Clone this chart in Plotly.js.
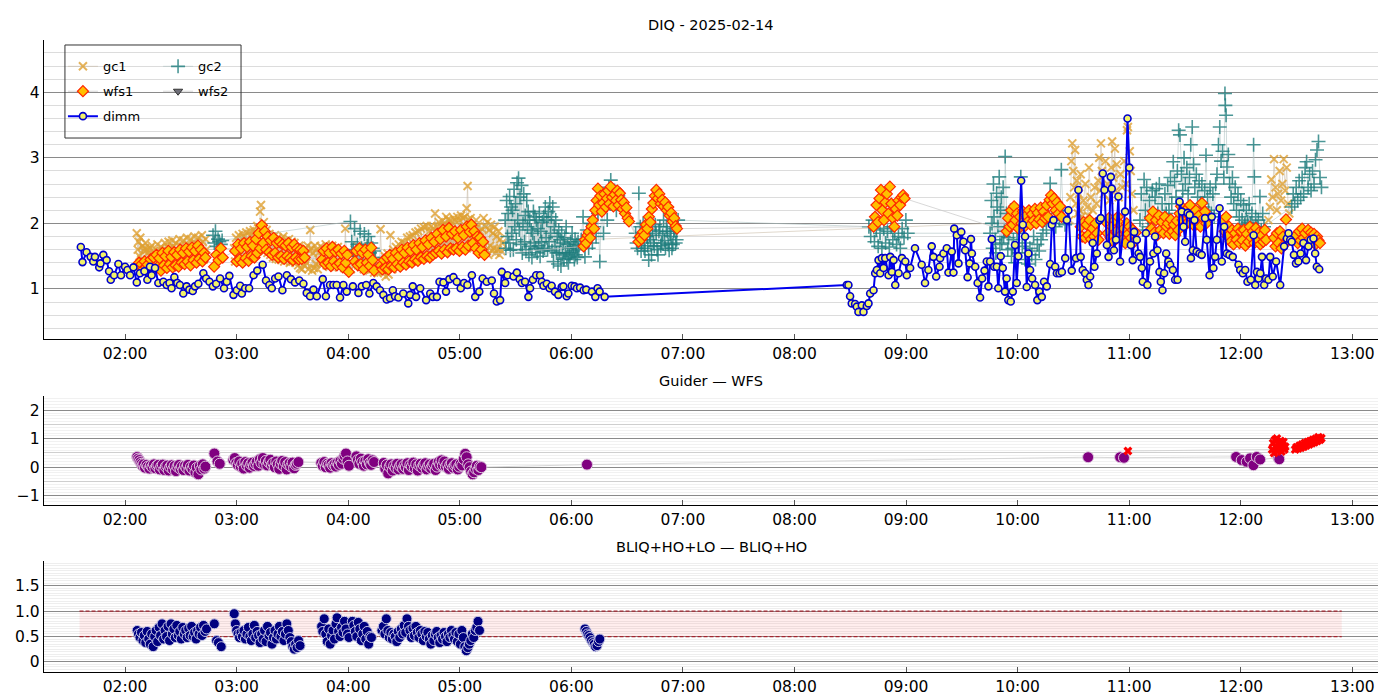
<!DOCTYPE html>
<html>
<head>
<meta charset="utf-8">
<script src="https://cdn.plot.ly/plotly-3.0.1.min.js"></script>
<style>
  html, body { margin: 0; padding: 0; background: #fff; }
  #diq-plot { width: 1400px; height: 700px; }
</style>
</head>
<body>
<div id="diq-plot"></div>
<script>
// DIQ night summary. Times are minutes after 00:00 UT, 2025-02-14.
const NIGHT = Date.UTC(2025, 1, 14);
const X_RANGE = [76.4, 793.8];

// ---- top panel: seeing estimates [minute, arcsec] ----
const dimm = [
  [96.2,1.64],[97.1,1.41],[99.3,1.56],[101.5,1.49],[102.9,1.42],[103.8,1.49],[106.1,1.33],[106.8,1.39],[108.3,1.52],[110.1,1.44],
  [111.4,1.27],[112.3,1.14],[114.1,1.21],[116.4,1.38],[117.8,1.21],[120.0,1.34],[121.3,1.29],[122.7,1.21],[124.5,1.33],[126.3,1.10],
  [128.0,1.24],[130.4,1.27],[132.0,1.14],[133.4,1.34],[134.3,1.21],[136.1,1.32],[137.9,1.09],[140.6,1.11],[142.4,1.06],[143.9,1.09],
  [145.0,1.01],[146.5,1.18],[148.1,1.09],[149.5,1.06],[151.3,0.93],[153.1,1.04],[154.6,0.99],[156.4,0.97],[157.6,1.04],[159.4,1.08],
  [162.1,1.24],[163.6,1.16],[165.4,1.11],[167.2,1.04],[169.0,1.08],[171.1,1.16],[173.2,1.01],[174.7,1.11],[176.1,1.20],[178.3,0.91],
  [180.1,0.98],[181.9,1.05],[182.8,0.93],[184.6,1.01],[186.7,1.01],[189.1,1.21],[191.1,1.28],[194.0,1.37],[195.8,1.13],[197.6,1.06],
  [198.9,1.01],[200.7,1.16],[202.5,1.19],[204.6,0.98],[207.0,1.21],[209.2,1.15],[211.4,1.10],[213.7,1.13],[215.9,1.08],[217.7,0.94],
  [219.5,0.89],[221.3,0.99],[223.1,0.89],[226.3,1.15],[228.0,0.89],[230.2,1.06],[232.0,1.06],[233.8,1.06],[235.6,0.87],[237.4,1.06],
  [239.2,0.96],[242.5,1.04],[245.5,0.94],[247.3,1.04],[249.7,1.06],[251.4,0.93],[253.5,1.09],[255.3,1.04],[257.1,0.98],[258.9,0.91],
  [260.7,0.84],[262.5,0.86],[264.0,0.98],[265.2,0.89],[267.0,0.87],[269.6,0.93],[272.3,0.78],[273.3,0.91],[274.7,1.04],[276.5,0.88],
  [278.7,1.01],[281.9,0.83],[284.1,0.93],[285.5,0.88],[287.7,0.88],[289.1,1.11],[291.2,1.10],[292.6,0.96],[294.4,1.15],[296.6,1.18],
  [298.4,1.11],[300.5,1.01],[302.3,1.09],[304.1,1.06],[306.5,1.21],[308.3,0.88],[310.5,0.96],[312.3,1.16],[314.5,1.11],[317.2,1.13],
  [318.4,0.93],[319.9,0.81],[321.7,0.83],[322.6,1.26],[324.4,1.09],[325.7,1.21],[328.9,1.19],[330.7,1.25],[332.2,1.15],[333.4,1.09],
  [335.1,1.11],[336.9,0.88],[337.8,1.01],[339.3,1.14],[341.1,1.21],[343.2,1.21],[344.1,1.11],[345.0,1.05],[346.8,1.08],[348.3,1.01],
  [349.4,1.05],[351.2,0.96],[353.0,0.91],[354.8,1.03],[355.7,1.04],[357.5,0.89],[358.4,0.93],[360.2,1.05],[361.7,1.04],[363.0,1.01],
  [364.7,1.02],[366.6,0.98],[368.0,0.99],[371.1,0.96],[372.9,0.88],[374.1,1.01],[375.2,0.96],[377.9,0.88],
  [508.1,1.06],[509.0,1.06],[509.9,0.89],[510.8,0.78],[512.6,0.77],[513.5,0.73],[514.4,0.65],[516.2,0.75],[517.1,0.65],[518.9,0.74],
  [519.8,0.78],[520.7,0.93],[522.5,0.98],[523.4,1.24],[524.3,1.29],[525.2,1.44],[526.1,1.24],[527.0,1.47],[527.9,1.32],[528.8,1.47],
  [530.6,1.21],[531.5,1.49],[532.4,1.26],[533.3,1.44],[534.2,1.06],[536.0,1.24],[537.8,1.47],[539.6,1.42],[540.4,1.21],[542.2,1.32],
  [544.8,1.62],[548.4,1.37],[550.2,1.09],[552.0,1.29],[553.8,1.65],[554.7,1.49],[556.2,1.19],[558.0,1.34],
  [558.3,1.47],[560.1,1.54],[561.9,1.62],[562.8,1.25],[564.6,1.57],[565.5,1.25],[565.9,1.92],[567.3,1.82],[568.2,1.39],[569.7,1.87],
  [570.9,1.72],[571.8,1.59],[573.1,1.18],[574.2,1.39],[574.9,1.76],[575.4,1.54],[577.2,1.34],[578.5,1.09],[579.8,0.87],[580.9,1.16],
  [582.2,1.28],[583.4,1.42],[584.3,1.04],[585.2,1.42],[586.1,1.76],[587.4,1.34],[588.8,1.34],[589.6,1.01],[590.9,1.50],[592.0,1.32],
  [593.2,0.96],[594.1,1.16],[595.0,0.83],[596.3,0.81],[597.4,0.96],[598.6,1.67],[599.5,1.09],[600.4,1.50],[601.9,2.65],[602.8,1.98],
  [604.0,1.80],[604.9,1.03],[605.8,1.54],[606.7,1.29],[607.8,1.16],[609.4,1.06],[610.6,0.83],[611.7,0.96],[613.0,0.88],[614.2,1.11],
  [615.7,1.04],[617.5,1.38],[618.4,1.98],[619.3,2.05],[620.2,1.34],[621.1,1.24],[622.5,1.24],[623.8,1.26],[625.6,1.47],[626.5,2.05],
  [627.3,2.20],[629.1,1.28],[631.4,1.47],[632.7,2.51],[633.9,1.49],[635.0,1.29],[636.3,1.24],[637.2,1.14],[638.1,1.06],[639.0,1.19],
  [640.4,1.70],[641.3,1.34],[642.6,1.54],[644.0,2.05],[644.7,2.08],[645.8,2.76],[646.7,2.51],[648.0,1.67],[648.9,1.49],[650.1,2.71],
  [650.6,2.53],[651.8,1.59],[652.9,1.75],[654.2,2.41],[655.1,1.42],[657.8,2.18],[659.1,3.60],[660.1,2.85],[660.9,1.67],[661.9,1.44],
  [662.7,1.87],[664.1,1.75],[665.0,1.54],[665.9,1.49],[666.8,1.32],[667.3,1.11],[669.0,1.85],[669.8,1.06],[671.2,1.42],[673.0,1.54],
  [673.9,1.80],[675.2,1.59],[676.3,1.26],[677.0,1.11],[677.9,0.98],[678.8,1.24],[679.9,1.54],[681.1,1.42],[682.0,1.37],[683.5,1.29],
  [684.7,1.14],[686.0,1.14],[687.1,2.33],[688.3,2.18],[689.2,1.95],[690.1,1.72],[691.4,2.16],[692.5,2.13],[693.2,1.47],[694.2,1.59],
  [695.1,2.05],[696.3,1.57],[697.8,1.54],[699.0,1.52],[700.8,2.08],[701.7,1.75],[703.2,1.21],[704.4,2.10],[705.3,1.32],[706.2,1.49],
  [707.1,1.75],[708.6,2.23],[709.8,1.42],[711.1,1.95],[712.5,1.54],[713.9,1.52],[715.7,1.49],[718.8,1.37],[719.7,1.29],[721.1,1.24],
  [722.4,1.29],[723.6,1.11],[725.4,1.14],[726.9,1.82],[727.8,1.06],[728.7,1.26],[729.6,1.16],[730.5,1.24],[731.4,1.49],[732.6,1.06],
  [733.6,1.16],[734.9,1.14],[735.8,1.49],[737.2,1.19],[739.0,1.42],[741.2,1.06],[743.3,1.65],[744.8,1.77],[745.7,1.85],[746.6,1.75],
  [747.4,1.72],[748.6,1.52],[749.7,1.39],[751.0,1.42],[752.2,1.54],[753.7,1.70],[755.1,1.44],[756.4,1.65],[757.6,1.75],[759.1,1.77],
  [760.0,1.54],[760.9,1.34],[762.2,1.30]
];

const wfs1 = [
  [127.5,1.40],[128.2,1.32],[128.9,1.38],[129.7,1.30],[130.5,1.42],[131.3,1.33],[132.1,1.37],[132.9,1.29],[133.7,1.45],[134.5,1.31],
  [135.3,1.48],[136.1,1.30],[136.9,1.52],[137.7,1.34],[138.5,1.47],[139.3,1.28],[140.1,1.55],[140.9,1.36],[141.7,1.50],[142.5,1.32],
  [143.3,1.58],[144.1,1.38],[144.9,1.49],[145.6,1.33],[146.4,1.56],[147.2,1.36],[148.0,1.52],[148.8,1.34],[149.6,1.60],[150.4,1.40],
  [151.2,1.55],[152.0,1.38],[152.8,1.62],[153.6,1.42],[154.4,1.57],[155.2,1.36],[156.0,1.63],[156.8,1.44],[157.6,1.58],[158.4,1.40],
  [159.2,1.66],[160.0,1.46],[160.8,1.60],[161.6,1.42],[162.4,1.55],[163.2,1.48],
  [167.9,1.34],[169.1,1.52],[170.3,1.44],[171.5,1.62],[172.5,1.48],
  [179.2,1.58],[180.0,1.42],[180.8,1.68],[181.6,1.45],[182.4,1.62],[183.2,1.40],[184.0,1.70],[184.8,1.47],[185.6,1.64],[186.4,1.43],
  [187.2,1.72],[188.0,1.50],[188.8,1.66],[189.6,1.48],[190.4,1.76],[191.1,1.55],[191.9,1.85],[192.7,1.62],[193.5,1.97],[194.3,1.70],
  [195.1,1.88],[195.9,1.60],[196.7,1.80],[197.5,1.56],[198.3,1.74],[199.1,1.52],[199.9,1.78],[200.7,1.55],[201.5,1.70],[202.3,1.48],
  [203.1,1.72],[203.9,1.50],[204.7,1.68],[205.5,1.46],[206.3,1.66],[207.1,1.50],[207.9,1.70],[208.7,1.47],[209.5,1.64],[210.3,1.44],
  [211.0,1.68],[211.8,1.48],[212.6,1.62],[213.4,1.45],[214.2,1.60],[215.0,1.46],[215.8,1.58],[216.6,1.48],
  [226.0,1.45],[226.8,1.58],[227.6,1.38],[228.4,1.62],[229.2,1.40],[229.9,1.55],[230.7,1.35],[231.5,1.64],[232.3,1.42],[233.1,1.57],
  [233.9,1.36],[234.7,1.60],[235.5,1.39],[236.3,1.54],[237.1,1.33],[237.9,1.58],[238.7,1.40],[239.5,1.52],[240.3,1.26],
  [243.6,1.42],[244.4,1.58],[245.2,1.36],[246.0,1.62],[246.8,1.38],[247.6,1.55],[248.4,1.30],[249.2,1.60],[250.0,1.40],[250.8,1.52],
  [251.6,1.35],[252.4,1.63],[253.1,1.44],[253.9,1.28],
  [257.6,1.36],[258.4,1.30],[259.2,1.44],[260.0,1.32],[260.8,1.48],[261.6,1.30],[262.4,1.52],[263.2,1.35],[264.0,1.46],[264.8,1.33],
  [265.6,1.55],[266.4,1.38],[267.2,1.50],[268.0,1.34],[268.8,1.60],[269.6,1.40],[270.3,1.55],[271.1,1.37],[271.9,1.63],[272.7,1.42],
  [273.5,1.58],[274.3,1.40],[275.1,1.67],[275.9,1.45],[276.7,1.60],[277.5,1.43],[278.3,1.70],[279.1,1.48],[279.9,1.64],[280.7,1.46],
  [281.5,1.74],[282.3,1.50],[283.1,1.68],[283.9,1.48],[284.7,1.78],[285.5,1.52],[286.3,1.72],[287.1,1.55],[287.9,1.84],[288.7,1.58],
  [289.5,1.76],[290.2,1.54],[291.0,1.90],[291.8,1.60],[292.6,1.80],[293.4,1.56],[294.2,1.93],[295.0,1.62],[295.8,1.84],[296.6,1.60],
  [297.4,1.88],[298.2,1.62],[299.0,1.78],[299.8,1.58],[300.6,1.90],[301.4,1.64],[302.2,1.82],[303.0,1.60],[303.8,1.95],[304.6,1.66],
  [305.4,1.87],[306.2,1.98],[307.0,1.70],[307.8,1.88],[308.6,1.62],[309.4,1.80],[310.2,1.55],[310.9,1.78],[311.7,1.60],[312.5,1.72],
  [313.3,1.52],
  [366.6,1.65],[367.3,1.75],[368.0,1.70],[368.7,1.82],[369.4,1.87],[370.1,1.78],[370.8,1.95],[371.5,2.05],[372.2,1.92],[372.9,2.20],
  [373.6,2.35],[374.3,2.53],[375.0,2.28],[375.7,2.42],[376.4,2.18],[377.1,2.31],[377.8,2.45],[378.5,2.25],[379.2,2.38],[379.8,2.50],
  [380.5,2.30],[381.2,2.56],[381.9,2.40],[382.6,2.26],[383.3,2.44],[384.0,2.35],[384.7,2.50],[385.4,2.28],[386.1,2.46],[386.8,2.36],
  [387.5,2.22],[388.2,2.32],[388.9,2.15],[389.6,2.24],[390.3,2.08],[391.0,2.03],
  [396.1,1.72],[396.9,1.80],[397.7,1.76],[398.5,1.87],[399.3,1.82],[400.1,1.98],[400.9,1.92],[401.7,2.10],[402.5,2.02],[403.3,2.22],
  [404.1,2.31],[404.9,2.42],[405.7,2.51],[406.5,2.38],[407.3,2.45],[408.1,2.30],[408.9,2.36],[409.7,2.26],[410.5,2.32],[411.3,2.20],
  [412.1,2.25],[412.9,2.12],[413.7,2.16],[414.5,2.03],[415.3,2.08],[416.1,1.96],[416.8,1.92],
  [522.5,1.95],[523.3,2.10],[524.1,2.28],[524.9,2.02],[525.7,2.38],[526.5,2.51],[527.3,2.20],[528.1,2.05],[528.9,2.32],[529.7,2.45],
  [530.5,2.15],[531.3,2.56],[532.1,2.30],[532.9,2.08],[533.7,1.95],[534.5,2.22],[535.3,2.12],[536.0,2.35],[536.8,2.28],[537.6,2.40],
  [538.4,2.43],[539.2,2.38],
  [594.1,1.88],[594.9,2.08],[595.7,1.95],[596.5,2.20],[597.3,1.98],[598.1,2.26],[598.9,2.05],[599.7,2.15],[600.5,1.92],[601.3,2.10],
  [602.1,2.00],[602.9,2.18],[603.7,1.95],[604.5,2.12],[605.3,2.02],[606.1,2.20],[606.9,1.98],[607.7,2.14],[608.5,2.04],[609.3,2.22],
  [610.0,2.00],[610.8,2.16],[611.6,2.06],[612.4,2.24],[613.2,2.02],[614.0,2.18],[614.8,2.08],[615.6,2.28],[616.4,2.10],[617.2,2.36],
  [618.0,2.43],[618.8,2.30],[619.6,2.38],[620.4,2.20],[621.2,2.32],[622.0,2.15],[622.8,2.26],[623.6,2.10],
  [633.9,1.95],[634.7,1.80],[635.5,2.02],[636.3,1.78],[637.1,1.98],[637.9,1.82],[638.7,2.05],[639.5,1.76],[640.3,1.92],[641.1,1.80],
  [641.9,2.00],[642.7,1.85],[643.5,1.75],
  [647.5,2.02],[648.3,1.85],[649.1,2.08],[649.9,1.78],[650.7,1.95],[651.5,1.72],[652.3,2.05],[653.1,1.88],[653.9,2.10],[654.7,1.80],
  [655.5,1.98],[656.3,1.75],[657.1,1.92],[657.9,1.70],[658.7,2.00],[659.5,1.84],[660.3,1.95],[661.1,1.78],[661.9,1.90],[662.7,1.72],
  [663.5,1.86],
  [671.2,2.08],[672.0,1.92],[672.8,2.18],[673.6,1.86],[674.4,2.05],[675.2,1.82],[676.0,2.12],[676.8,1.90],[677.6,2.02],[678.4,1.85],
  [679.2,2.10],[680.0,1.95],[680.8,2.00],[681.6,1.84],[682.4,2.06],[683.2,1.88],[684.0,1.98],[684.8,1.82],[685.6,2.04],[686.4,1.90],
  [687.1,2.15],[687.9,2.26],[688.7,2.05],[689.5,2.18],[690.3,1.98],[691.1,2.22],[691.9,2.02],[692.7,2.28],[693.5,2.08],[694.3,2.14],
  [695.1,1.96],[695.9,2.20],[696.7,2.00],[697.5,2.12],[698.3,1.95],[699.1,2.31],[699.9,2.08],[700.7,2.18],[701.5,2.00],
  [710.5,2.05],[711.3,1.88],[712.1,2.10],[712.9,1.80],[713.7,1.95],[714.5,1.72],[715.3,1.90],[716.1,1.68],[716.9,1.85],[717.7,1.75],
  [718.5,1.92],[719.3,1.70],[720.1,1.88],[720.9,1.74],[721.7,1.90],[722.5,1.66],[723.3,1.84],[724.1,1.72],[724.9,1.95],[725.7,1.78],
  [726.5,1.88],[727.3,1.70],[728.1,1.93],[728.9,1.76],[729.7,1.86],[730.5,1.68],[731.3,1.82],[732.1,1.72],[732.9,1.90],[733.6,1.75],
  [737.9,1.78],[738.7,1.65],[739.5,1.85],[740.3,1.70],[741.1,1.88],[741.9,1.62],[742.7,1.80],[743.5,1.68],[744.3,2.06],[745.1,1.75],
  [749.8,1.82],[750.6,1.70],[751.4,1.88],[752.2,1.74],[753.0,1.92],[753.8,1.78],[754.6,1.85],[755.4,1.70],[756.2,1.90],[757.0,1.76],
  [757.8,1.86],[758.6,1.72],[759.4,1.84],[760.2,1.68],[761.0,1.80],[761.8,1.74],[762.6,1.70]
];

const gc1 = [
  [126.3,1.85],[126.8,1.60],[127.2,1.72],[127.7,1.50],[128.2,1.78],[128.7,1.45],[129.2,1.65],[129.7,1.40],[130.2,1.58],[130.7,1.62],
  [131.0,1.70],[131.4,1.42],[131.8,1.60],[132.2,1.55],[132.5,1.34],[132.9,1.38],[133.4,1.62],[133.9,1.50],[134.4,1.66],[134.9,1.35],
  [135.4,1.58],[135.9,1.52],[136.4,1.32],[136.9,1.40],[137.4,1.68],[137.9,1.56],[138.4,1.36],[138.9,1.34],[139.4,1.64],[139.9,1.58],
  [140.4,1.30],[140.9,1.42],[141.4,1.70],[141.9,1.60],[142.4,1.36],[142.9,1.38],[143.4,1.72],[143.9,1.62],[144.4,1.35],[144.9,1.45],
  [145.4,1.74],[145.8,1.64],[146.3,1.38],[146.8,1.40],[147.3,1.70],[147.8,1.60],[148.3,1.36],[148.8,1.44],[149.3,1.76],[149.8,1.66],
  [150.3,1.38],[150.8,1.46],[151.3,1.74],[151.8,1.62],[152.3,1.40],[152.8,1.42],[153.3,1.78],[153.8,1.68],[154.3,1.42],[154.8,1.48],
  [155.3,1.76],[155.8,1.64],[156.3,1.40],[156.8,1.46],[157.3,1.80],[157.8,1.70],[158.3,1.44],[158.8,1.50],[159.3,1.78],[159.8,1.66],
  [160.3,1.42],[160.8,1.48],[161.3,1.82],[161.8,1.72],[162.3,1.45],[162.8,1.52],[163.3,1.76],[163.8,1.60],
  [178.7,1.62],[179.2,1.42],[179.7,1.78],[180.2,1.48],[180.7,1.50],[181.2,1.82],[181.7,1.72],[182.2,1.44],[182.7,1.56],[183.2,1.84],
  [183.7,1.80],[184.2,1.46],[184.7,1.52],[185.2,1.86],[185.7,1.74],[186.2,1.48],[186.7,1.58],[187.2,1.88],[187.7,1.82],[188.2,1.50],
  [188.7,1.55],[189.2,1.90],[189.6,1.86],[190.1,1.52],[190.6,1.64],[191.1,1.96],[191.6,1.92],[192.1,1.60],[192.6,2.18],[193.1,2.28],
  [193.6,1.95],[194.1,1.62],[194.6,2.02],[195.1,1.58],[195.6,1.75],[196.1,1.90],[196.6,1.55],[197.1,1.66],[197.6,1.84],[198.1,1.52],
  [198.6,1.62],[199.1,1.80],[199.6,1.48],[200.1,1.58],[200.6,1.82],[201.1,1.46],[201.6,1.60],[202.1,1.78],[202.6,1.45],[203.1,1.56],
  [203.6,1.76],[204.1,1.44],[204.6,1.58],[205.1,1.80],[205.6,1.42],[206.1,1.55],[206.6,1.74],[207.1,1.45],[207.6,1.58],[208.1,1.76],
  [208.6,1.40],[209.1,1.52],[209.6,1.72],[210.1,1.42],[210.6,1.55],[211.1,1.70],[211.6,1.40],[212.1,1.45],[212.6,1.62],[213.1,1.36],
  [213.6,1.66],[214.1,1.32],[214.6,1.60],[215.1,1.30],[215.6,1.55],[216.1,1.52],[216.6,1.35],[217.1,1.62],[217.6,1.40],[218.1,1.66],
  [218.6,1.30],[219.1,1.58],[219.6,1.90],[220.1,1.62],[220.6,1.28],[221.1,1.55],[221.6,1.32],[222.1,1.66],[222.6,1.38],[223.1,1.60],
  [223.6,1.30],[224.1,1.55],[224.6,1.42],[225.1,1.65],
  [225.9,1.40],[226.4,1.62],[226.9,1.48],[227.4,1.50],[227.9,1.68],[228.4,1.36],[228.9,1.45],[229.4,1.64],[229.9,1.34],[230.4,1.60],
  [230.9,1.42],[231.4,1.66],[231.9,1.38],[232.4,1.48],[232.9,1.60],[233.4,1.36],[233.9,1.40],[234.4,1.64],[234.9,1.33],[235.4,1.44],
  [235.9,1.58],[236.4,1.50],[236.9,1.38],[237.4,1.56],[237.9,1.32],[238.4,1.92],[239.4,1.38],[240.4,1.55],[241.4,1.30],
  [243.4,1.60],[243.9,1.42],[244.4,1.46],[244.9,1.66],[245.4,1.36],[245.9,1.42],[246.4,1.62],[246.9,1.34],[247.4,1.38],[247.9,1.65],
  [248.4,1.30],[248.9,1.45],[249.4,1.58],[249.9,1.32],[250.4,1.36],[250.9,1.62],[251.4,1.28],[251.9,1.40],[252.4,1.58],[252.9,1.30],
  [253.9,1.25],[254.9,1.30],[255.9,1.24],[256.9,1.36],[257.4,1.91],[258.0,1.42],[258.7,1.28],[259.2,1.26],[259.7,1.50],[260.2,1.19],
  [260.7,1.32],[261.2,1.54],[261.7,1.22],[262.2,1.44],[262.7,1.82],[263.2,1.48],[263.7,1.30],[264.2,1.60],[264.7,1.36],[265.2,1.40],
  [265.7,1.64],[266.2,1.34],[266.7,1.45],[267.2,1.68],[267.7,1.36],[268.2,1.48],[268.7,1.72],[269.2,1.38],[269.7,1.50],[270.2,1.70],
  [270.7,1.40],[271.2,1.52],[271.7,1.78],[272.2,1.42],[272.7,1.55],[273.2,1.80],[273.7,1.44],[274.2,1.58],[274.7,1.82],[275.2,1.46],
  [275.7,1.60],[276.2,1.86],[276.7,1.48],[277.2,1.62],[277.7,1.88],[278.2,1.50],[278.7,1.66],[279.2,1.92],[279.7,1.52],[280.2,1.68],
  [280.7,1.94],[281.2,1.54],[281.7,1.72],[282.2,1.96],[282.7,1.74],[283.2,1.58],[283.7,1.88],[284.2,1.68],[284.7,1.96],[285.2,1.60],
  [285.7,1.92],[286.2,1.66],[286.7,2.15],[287.2,1.62],[287.7,1.95],[288.2,1.70],[288.7,2.02],[289.2,1.64],[289.7,1.96],[290.2,1.72],
  [290.7,2.04],[291.2,1.68],[291.7,1.98],[292.2,1.74],[292.7,2.10],[293.2,1.70],[293.7,2.06],[294.2,1.76],[294.7,2.05],[295.2,1.72],
  [295.7,2.02],[296.2,1.78],[296.7,2.08],[297.2,1.74],[297.7,2.04],[298.2,1.80],[298.7,2.10],[299.2,1.76],[299.7,2.05],[300.2,1.82],
  [300.7,2.12],[301.2,1.78],[301.7,2.08],[302.2,1.84],[302.7,2.10],[303.2,1.80],[303.7,2.23],[304.2,2.57],[304.7,2.06],[305.2,1.78],
  [305.8,2.08],[306.3,1.80],[306.8,1.98],[307.3,1.62],[307.8,1.92],[308.3,1.68],[308.8,2.05],[309.3,1.60],[309.8,1.95],[310.3,1.72],
  [310.8,1.88],[311.3,1.65],[311.8,1.92],[312.3,1.70],[312.8,2.08],[313.3,1.55],[313.8,1.95],[314.3,1.60],[314.8,2.02],[315.3,1.52],
  [315.8,1.90],[316.3,1.66],[316.8,1.98],[317.3,1.58],[317.8,1.85],[318.3,1.62],[318.8,1.95],[319.3,1.55],[319.8,1.80],[320.3,1.60],
  [320.8,1.88],[321.3,1.52],[321.8,1.76],[322.3,1.58],[322.8,1.70],
  [627.9,2.05],[628.4,2.40],[628.9,2.95],[629.4,3.22],[629.9,2.80],[630.4,2.55],[630.9,3.12],[631.4,2.30],[631.9,2.65],[632.4,2.15],
  [632.9,2.45],[633.4,2.20],[633.9,2.75],[634.4,2.10],[635.4,2.35],[636.4,2.60],[637.4,2.25],[637.9,2.12],[638.4,2.85],[639.4,2.40],
  [640.4,2.20],[641.4,2.55],[642.4,2.30],[643.4,2.65],[643.9,3.00],[644.4,2.50],[644.8,3.22],[645.3,2.80],[646.3,2.45],[647.3,2.95],
  [648.3,2.60],[649.3,2.35],[650.3,2.85],[650.8,3.25],[651.3,2.70],[652.3,3.14],[652.8,2.50],[653.3,2.90],[654.3,2.40],[655.3,2.75],
  [656.3,2.55],[657.3,2.95],[658.3,2.60],[658.8,3.42],[659.3,3.47],[660.3,3.10],[660.8,2.80],[661.3,2.45],[662.3,2.20],
  [734.9,2.05],[735.7,2.25],[736.4,2.67],[737.1,2.40],[737.9,2.98],[738.7,2.55],[739.4,2.20],[740.1,2.45],[740.9,2.80],[741.7,2.35],
  [742.4,2.60],[743.1,2.98],[743.9,2.50],[744.7,2.85],[745.4,2.30],[746.1,2.15]
];

const gc2 = [
  [167.3,1.82],[168.0,1.70],[168.6,1.88],[169.3,1.65],[170.0,1.76],[170.7,1.72],[171.5,1.68],[172.2,1.74],
  [241.2,2.03],[241.9,1.72],[242.7,1.60],[243.4,1.92],[244.2,1.55],[244.9,1.68],[245.7,1.50],[246.4,1.88],[247.2,1.62],[247.9,1.52],
  [248.7,1.84],[249.4,1.58],[250.2,1.66],[250.9,1.80],[251.7,1.55],[252.4,1.70],[253.2,1.62],[253.9,1.58],[254.6,1.48],
  [324.4,2.05],[324.8,1.62],[325.2,2.35],[325.6,1.80],[326.0,2.15],[326.4,1.70],[326.8,2.41],[327.2,1.59],[327.6,2.25],[328.0,1.85],
  [328.4,2.20],[328.8,1.60],[329.2,2.52],[329.6,1.95],[330.0,2.30],[330.4,1.75],[330.8,2.62],[331.2,2.05],[331.6,2.69],[332.0,1.90],
  [332.4,2.40],[332.8,1.68],[333.2,2.58],[333.6,1.55],[334.0,2.00],[334.4,2.45],[334.8,1.72],[335.2,2.12],[335.6,1.60],[336.0,2.35],
  [336.4,1.95],[336.8,2.18],[337.2,1.52],[337.6,2.05],[338.0,1.65],[338.4,1.90],[338.8,1.48],[339.2,1.85],[339.6,2.18],[340.0,1.70],
  [340.4,2.10],[340.8,1.62],[341.2,2.05],[341.6,1.55],[342.0,1.92],[342.4,1.66],[342.8,2.15],[343.2,1.50],[343.6,1.88],[344.0,1.72],
  [344.4,2.02],[344.8,1.58],[345.2,2.10],[345.6,1.62],[346.0,2.25],[346.4,1.78],[346.8,2.05],[347.2,1.60],[347.6,2.18],[348.0,1.72],
  [348.4,2.31],[348.8,1.85],[349.2,2.10],[349.6,1.58],[350.0,2.25],[350.4,1.42],[350.8,1.95],[351.2,1.65],[351.6,2.05],[352.0,1.55],
  [352.4,1.80],[352.8,1.38],[353.2,1.90],[353.6,1.55],[354.0,1.75],[354.4,1.35],[354.8,1.85],[355.2,1.52],[355.6,1.70],[356.0,1.45],
  [356.4,1.78],[356.8,1.55],[357.2,1.95],[357.6,1.47],[358.0,1.68],[358.4,1.40],[358.8,1.62],[359.2,1.50],[359.6,1.72],[360.0,1.55],
  [360.4,1.85],[360.8,1.58],[361.2,1.65],[361.6,1.45],[362.0,1.76],[362.4,1.52],[362.8,1.68],[363.2,1.48],[363.6,1.72],[364.0,1.60],
  [365.3,1.75],[366.3,2.10],[367.3,1.49],[368.3,1.90],[369.3,1.62],[370.3,2.00],[371.3,1.70],[372.3,1.95],[373.3,1.80],[374.3,2.15],
  [375.3,1.42],[376.3,2.25],[377.3,1.85],[378.3,2.40],[379.3,2.05],[380.2,2.55],[381.2,2.66],[382.2,2.35],[383.2,2.50],[384.2,2.20],
  [385.2,2.42],[386.2,2.30],[387.2,2.25],
  [394.6,1.85],[395.1,1.70],[395.6,1.62],[396.3,2.46],[396.7,1.78],[397.1,1.95],[397.5,1.58],[397.9,1.70],[398.3,1.86],[398.6,2.00],
  [399.1,1.62],[399.6,1.58],[400.1,1.90],[400.6,1.80],[401.1,1.66],[401.6,1.44],[402.1,1.82],[402.6,1.75],[403.1,1.52],[403.6,1.90],
  [404.1,1.70],[404.6,1.65],[405.1,1.98],[405.6,1.85],[406.1,1.60],[406.6,1.52],[407.1,1.88],[407.6,1.95],[408.1,1.66],[408.6,1.70],
  [409.1,1.82],[409.6,2.05],[410.1,1.74],[410.6,1.62],[411.1,1.95],[411.6,1.88],[412.1,1.68],[412.6,1.59],[413.1,1.85],[413.6,1.80],
  [414.1,1.62],[414.6,1.68],[415.1,1.88],[415.6,1.92],[416.1,1.70],[416.6,1.75],[417.4,2.05],
  [520.0,1.95],[521.0,1.80],[522.0,2.05],[523.0,1.72],[524.0,1.90],[525.0,1.65],[526.0,1.85],[527.0,1.62],[528.0,1.92],[529.0,1.70],
  [530.0,1.88],[531.0,1.64],[532.0,1.95],[532.9,1.75],[533.9,1.85],[534.9,1.68],[535.9,1.80],[536.9,1.62],[537.9,1.92],[538.9,1.78],
  [539.9,2.05],[540.9,1.85],
  [585.2,1.85],[585.9,2.35],[586.2,2.00],[586.6,1.62],[587.0,2.60],[587.3,2.10],[588.0,1.75],[588.3,1.55],[588.7,2.46],[589.0,2.25],
  [589.4,1.95],[590.1,2.71],[590.5,1.68],[590.8,2.20],[591.2,2.40],[591.5,1.70],[592.2,2.55],[592.5,1.80],[592.9,1.88],[593.3,3.02],
  [594.0,2.15],[594.7,1.60],[595.2,1.78],[595.7,1.95],[596.2,2.20],[596.7,1.50],[597.2,1.62],[597.7,1.75],[598.7,1.40],[599.7,1.85],
  [600.7,1.55],[601.7,2.71],[602.5,1.65],[603.1,1.95],[603.9,1.45],[604.6,1.70],[605.6,1.38],[606.6,1.62],[607.6,1.52],[608.6,1.80],
  [609.6,1.45],[610.6,1.68],[611.6,1.58],[612.6,1.75],[613.6,1.85],[614.6,2.05],[615.5,1.90],[616.5,2.15],[617.5,2.61],[618.5,2.00],
  [619.5,2.36],[620.5,1.95],[621.5,2.20],[622.5,2.05],[623.5,2.82],[624.5,2.10],[625.5,1.98],
  [665.8,2.05],[666.5,2.45],[667.2,1.90],[668.0,2.67],[668.7,2.20],[669.4,2.55],[670.2,1.95],[670.9,2.35],[671.6,2.10],[672.4,2.50],
  [673.2,2.00],[673.9,2.40],[674.6,2.53],[675.4,2.15],[676.2,2.60],[676.9,2.05],[677.7,2.30],[678.4,1.92],[679.2,2.45],[679.9,2.15],
  [680.7,2.58],[681.4,2.20],[682.2,2.70],[682.9,2.30],[683.7,2.94],[684.4,2.64],[685.2,2.40],[685.9,2.80],[686.6,3.42],[687.3,3.35],
  [688.1,2.75],[688.8,2.50],[689.5,3.00],[690.2,2.60],[691.0,2.85],[691.7,2.45],[692.4,2.70],[693.1,3.20],[693.9,3.47],[694.6,2.90],
  [695.3,2.55],[696.1,2.75],[696.8,2.40],[697.6,2.65],[698.3,2.30],[699.1,2.60],[699.8,2.25],[700.6,2.50],[701.3,3.04],[702.1,2.40],
  [702.7,2.20],[703.5,2.55],[704.2,2.15],[705.0,2.45],[705.7,2.10],[706.5,2.60],[707.2,2.75],[708.0,3.20],[708.7,3.47],[709.4,2.95],
  [710.2,3.10],[710.9,2.70],[711.5,3.98],[711.7,3.80],[712.1,3.65],[712.6,2.86],[713.3,3.05],[714.0,2.60],[714.8,2.40],[715.5,2.70],
  [716.2,2.30],[717.0,2.55],[717.7,2.20],[718.5,2.45],[719.2,2.10],[720.0,2.35],[720.7,2.05],[721.5,2.28],[722.2,1.98],[723.0,2.20],
  [723.7,2.02],[724.5,2.30],[725.2,2.00],[726.0,2.15],[726.9,3.20],[727.3,2.71],[728.0,2.10],[728.8,1.95],[729.5,2.05],[730.3,2.41],
  [731.0,1.90],[731.8,2.15],[732.5,1.95],
  [747.4,2.25],[748.2,2.45],[749.0,2.30],[749.8,2.55],[750.6,2.35],[751.4,2.65],[752.2,2.40],[753.0,2.70],[753.8,2.45],[754.6,2.85],
  [755.4,2.94],[756.2,2.55],[757.0,2.75],[757.8,2.50],[758.6,2.80],[759.4,2.60],[760.2,2.97],[761.0,3.12],[761.8,3.25],[762.6,2.70],
  [763.4,2.55]
];

const wfs2 = [];

// ---- middle panel: guider minus WFS ----
const guider = [
  [126.5,0.36],[127.0,0.30],[127.6,0.25],[128.2,0.18],[128.8,0.12],[129.4,0.05],[129.9,0.10],[130.7,-0.02],[131.5,0.08],[132.3,0.02],
  [133.1,-0.05],[133.9,0.06],[134.7,0.00],[135.5,0.10],[136.3,-0.04],[137.1,0.05],[137.9,0.08],[138.7,-0.08],[139.5,0.03],[140.3,0.09],
  [141.1,-0.10],[141.9,0.02],[142.7,0.06],[143.5,-0.12],[144.3,0.00],[145.1,0.07],[145.8,-0.08],[146.6,0.04],[147.4,-0.14],[148.2,0.02],
  [149.0,0.08],[149.8,-0.06],[150.6,0.03],[151.4,-0.10],[152.2,0.05],[153.0,-0.02],[153.8,0.08],[154.6,-0.12],[155.4,0.01],[156.2,-0.06],
  [157.0,0.06],[157.8,-0.18],[158.6,-0.02],[159.4,-0.25],[160.2,0.04],[161.0,-0.08],[161.8,0.10],[162.6,-0.05],[163.2,0.02],
  [168.0,0.48],[169.7,0.20],[170.9,0.12],
  [178.2,0.25],[179.0,0.32],[179.8,0.15],[180.6,0.08],[181.4,0.20],[182.2,0.02],[183.0,0.12],[183.8,-0.05],[184.6,0.18],[185.4,0.06],
  [186.2,0.14],[187.0,-0.02],[187.8,0.10],[188.5,0.16],[189.3,0.04],[190.1,0.12],[190.9,0.20],[191.7,0.05],[192.5,0.28],[193.3,0.15],
  [194.1,0.32],[194.9,0.10],[195.7,0.22],[196.5,0.06],[197.3,0.18],[198.1,0.26],[198.9,0.08],[199.7,0.15],[200.5,0.00],[201.3,0.20],
  [202.1,0.10],[202.9,-0.06],[203.7,0.12],[204.5,0.22],[205.3,0.04],[206.1,0.18],[206.9,-0.08],[207.7,0.10],[208.5,0.14],[209.3,0.02],
  [210.1,0.16],[210.9,-0.04],[211.7,0.08],[212.4,0.12],[213.2,0.18],
  [225.5,0.15],[226.3,0.05],[227.1,0.18],[227.9,0.00],[228.7,0.12],[229.5,0.08],[230.3,-0.02],[231.0,0.14],[231.8,0.06],[232.6,0.10],
  [233.4,0.02],[234.2,0.16],[235.0,0.08],[235.8,0.22],[236.6,0.12],[237.4,0.30],[238.0,0.40],[238.8,0.48],[239.6,0.20],[240.4,0.05],
  [244.4,0.38],[245.2,0.25],[246.0,0.12],[246.8,0.30],[247.6,0.18],[248.4,0.05],[249.2,0.22],[250.0,0.10],[250.8,0.28],[251.6,0.15],
  [252.3,0.08],[253.1,0.24],[253.9,0.18],
  [259.1,0.15],[259.9,-0.05],[260.7,0.08],[261.5,-0.22],[262.3,0.02],[263.1,0.10],[263.9,-0.12],[264.7,0.05],[265.5,-0.02],[266.3,0.12],
  [267.1,-0.08],[267.9,0.04],[268.7,0.10],[269.5,-0.06],[270.3,0.06],[271.0,0.00],[271.8,0.14],[272.6,-0.10],[273.4,0.08],[274.2,0.02],
  [275.0,0.16],[275.8,-0.04],[276.6,0.10],[277.4,-0.12],[278.2,0.06],[279.0,0.12],[279.8,-0.02],[280.6,0.08],[281.4,0.14],[282.2,-0.08],
  [283.0,0.04],[283.8,0.10],[284.6,-0.04],[285.4,0.06],[286.2,0.12],[287.0,-0.10],[287.8,0.02],[288.6,0.18],[289.4,0.08],[290.2,0.24],
  [290.9,0.06],[291.7,0.20],[292.5,0.02],[293.3,0.10],[294.1,-0.06],[294.9,0.08],[295.7,0.14],[296.5,-0.02],[297.3,0.06],[298.1,0.10],
  [298.9,-0.08],[299.7,0.02],[300.5,0.12],[301.3,0.06],[302.1,0.28],[302.9,0.47],[303.7,0.35],[304.5,0.10],[305.3,0.00],[306.1,-0.15],
  [306.9,-0.25],[307.7,-0.18],[308.5,-0.05],[309.2,0.05],[310.0,-0.10],[310.8,0.02],[311.6,0.00],
  [368.4,0.09],
  [637.9,0.35],[655.1,0.35],[657.2,0.33],
  [717.5,0.36],[720.5,0.25],[723.2,0.19],[725.0,0.31],[726.8,0.07],[728.6,0.36],[730.4,0.27],[740.2,0.33],[740.7,0.28]
];

const guiderFlagged = [
  [659.3,0.57],
  [736.9,0.62],[737.4,0.85],[737.9,0.50],[738.4,0.95],[738.9,0.70],[739.4,1.01],[739.9,0.58],[740.4,0.80],[740.9,0.65],[741.4,0.92],
  [741.9,0.55],[742.4,0.78],[742.9,0.88],[743.4,0.62],[743.9,0.72],
  [749.3,0.62],[750.0,0.70],[750.8,0.66],[751.6,0.75],[752.3,0.68],[753.0,0.80],[753.8,0.72],[754.5,0.85],[755.2,0.76],[756.0,0.88],
  [756.7,0.80],[757.4,0.92],[758.2,0.84],[758.9,0.96],[759.6,0.88],[760.4,1.00],[761.1,0.92],[761.8,1.05],[762.6,0.96],[763.3,1.02]
];

// ---- bottom panel: BLIQ+HO+LO minus BLIQ+HO ----
const bliq = [
  [126.5,0.62],[127.2,0.55],[128.0,0.48],[128.8,0.58],[129.6,0.42],[130.3,0.52],[131.1,0.38],[131.9,0.60],[132.7,0.45],[133.5,0.35],
  [134.3,0.55],[135.1,0.30],[135.9,0.50],[136.7,0.62],[137.5,0.40],[138.3,0.68],[139.1,0.52],[139.9,0.75],[140.7,0.45],[141.5,0.62],
  [142.3,0.50],[143.1,0.70],[143.9,0.42],[144.7,0.75],[145.4,0.55],[146.2,0.65],[147.0,0.48],[147.8,0.72],[148.6,0.52],[149.4,0.60],
  [150.2,0.45],[151.0,0.68],[151.8,0.55],[152.6,0.62],[153.4,0.48],[154.2,0.66],[155.0,0.52],[155.8,0.70],[156.6,0.50],[157.4,0.58],
  [158.2,0.45],[159.0,0.62],[159.8,0.55],[160.6,0.68],[161.4,0.52],[162.2,0.72],[163.0,0.60],[163.8,0.65],
  [168.0,0.75],[169.2,0.42],[170.2,0.38],[171.7,0.30],
  [178.7,0.95],[179.3,0.75],
  [180.0,0.62],[180.7,0.55],[181.5,0.48],[182.3,0.58],[183.1,0.50],[183.9,0.62],[184.7,0.45],[185.5,0.55],[186.3,0.68],[187.1,0.50],
  [187.9,0.42],[188.7,0.55],[189.5,0.72],[190.2,0.48],[191.0,0.60],[191.8,0.52],[192.6,0.38],[193.4,0.55],[194.2,0.45],[195.0,0.62],
  [195.8,0.40],[196.6,0.70],[197.4,0.52],[198.2,0.58],[199.0,0.35],[199.8,0.48],[200.6,0.62],[201.4,0.45],[202.2,0.55],[203.0,0.70],
  [203.8,0.50],[204.6,0.60],[205.4,0.42],[206.2,0.55],[207.0,0.75],[207.8,0.62],[208.6,0.48],[209.4,0.40],[210.2,0.30],[211.0,0.25],
  [211.7,0.35],[212.5,0.28],[213.3,0.42],[214.1,0.32],
  [225.7,0.70],[226.3,0.60],[227.1,0.85],[227.9,0.55],[228.7,0.40],[229.5,0.65],[230.3,0.35],[231.0,0.52],[231.8,0.62],[232.6,0.45],
  [233.4,0.75],[234.0,0.87],[234.8,0.60],[235.6,0.50],[236.4,0.68],[237.2,0.58],[238.0,0.80],[238.8,0.65],[239.6,0.55],[240.4,0.48],
  [242.2,0.80],[243.0,0.72],[243.8,0.60],[244.6,0.50],[245.4,0.78],[246.2,0.65],[247.0,0.42],[247.8,0.55],[248.6,0.70],[249.4,0.45],
  [250.2,0.60],[251.0,0.35],[251.7,0.50],[252.5,0.48],
  [258.1,0.62],[258.9,0.70],[259.7,0.55],[260.5,0.85],[261.3,0.62],[262.1,0.48],[262.9,0.58],[263.7,0.45],[264.5,0.55],[265.3,0.50],
  [266.1,0.40],[266.9,0.60],[267.7,0.48],[268.5,0.65],[269.3,0.55],[270.1,0.72],[270.9,0.58],[271.6,0.85],[272.4,0.70],[273.2,0.62],
  [274.0,0.48],[274.8,0.66],[275.6,0.52],[276.4,0.70],[277.2,0.58],[278.0,0.48],[278.8,0.62],[279.6,0.55],[280.4,0.42],[281.2,0.60],
  [282.0,0.50],[282.8,0.58],[283.6,0.45],[284.4,0.35],[285.2,0.52],[286.0,0.42],[286.8,0.55],[287.6,0.60],[288.4,0.48],[289.2,0.38],
  [289.9,0.52],[290.7,0.45],[291.5,0.58],[292.3,0.50],[293.1,0.40],[293.9,0.55],[294.7,0.48],[295.5,0.62],[296.3,0.52],[297.1,0.45],
  [297.9,0.58],[298.7,0.40],[299.5,0.55],[300.3,0.35],[301.1,0.62],[301.9,0.48],[302.7,0.30],[303.5,0.22],[304.3,0.28],[305.1,0.35],
  [305.9,0.42],[306.7,0.55],[307.5,0.48],[308.3,0.62],[309.1,0.68],[309.8,0.80],[310.6,0.62],
  [367.3,0.65],[368.0,0.60],[368.6,0.55],[369.3,0.52],[370.0,0.48],[370.8,0.42],[371.6,0.38],[372.3,0.35],[373.0,0.30],[373.8,0.32],
  [374.6,0.40],[375.3,0.45]
];
const bandLevels = [0.5, 1.0];
const bandSpan = [95.5, 774.3];

const bottomTicks = [0, 0.5, 1.0, 1.5];
const bottomTickText = ['0', '0.5', '1.0', '1.5'];
const middleHalfTicks = [-1.5, -0.5, 0.5, 1.5, 2.5];

const FONT = 'DejaVu Sans, Liberation Sans, sans-serif';

function toTime(t) { return NIGHT + t * 60000; }
function xs(pairs) { return pairs.map(p => toTime(p[0])); }
function ys(pairs) { return pairs.map(p => p[1]); }

const GREY_LINE = { color: 'rgba(200,200,200,0.7)', width: 1 };

const traces = [
  {
    name: 'gc1', x: xs(gc1), y: ys(gc1), xaxis: 'x', yaxis: 'y',
    type: 'scatter', mode: 'lines+markers', legend: 'legend', legendgroup: 'gc1',
    line: { color: 'rgba(195,180,155,0.5)', width: 1 },
    marker: { symbol: 'x-thin', size: 8, line: { color: 'rgba(222,160,50,0.8)', width: 2 } }
  },
  {
    name: 'gc2', x: xs(gc2), y: ys(gc2), xaxis: 'x', yaxis: 'y',
    type: 'scatter', mode: 'lines+markers', legend: 'legend2', legendgroup: 'gc2',
    line: { color: 'rgba(170,192,192,0.55)', width: 1 },
    marker: { symbol: 'cross-thin', size: 10, line: { color: 'rgba(30,125,125,0.8)', width: 1.6 } }
  },
  {
    name: 'wfs1', x: xs(wfs1), y: ys(wfs1), xaxis: 'x', yaxis: 'y',
    type: 'scatter', mode: 'lines+markers', legend: 'legend', legendgroup: 'wfs1',
    line: GREY_LINE,
    marker: { symbol: 'diamond', size: 8.5, color: '#ffbf00', line: { color: '#ff2800', width: 1.2 } }
  },
  {
    name: 'wfs2', x: wfs2.length ? xs(wfs2) : [null], y: wfs2.length ? ys(wfs2) : [null],
    xaxis: 'x', yaxis: 'y',
    type: 'scatter', mode: 'lines+markers', legend: 'legend2', legendgroup: 'wfs2',
    line: GREY_LINE,
    marker: { symbol: 'triangle-down', size: 8, color: '#6e6e78', line: { color: '#333', width: 1 } }
  },
  {
    name: 'dimm', x: xs(dimm), y: ys(dimm), xaxis: 'x', yaxis: 'y',
    type: 'scatter', mode: 'lines+markers', legend: 'legend', legendgroup: 'dimm',
    line: { color: '#0000ee', width: 2 },
    marker: { symbol: 'circle', size: 7, color: '#f2f26a', line: { color: '#0000cc', width: 1.6 } }
  },
  {
    name: 'guider', x: xs(guider), y: ys(guider), xaxis: 'x2', yaxis: 'y2',
    type: 'scatter', mode: 'lines+markers', showlegend: false,
    line: GREY_LINE,
    marker: { symbol: 'circle', size: 11, color: '#800080', line: { color: '#dcc4dc', width: 1 } }
  },
  {
    name: 'guider flagged', x: xs(guiderFlagged), y: ys(guiderFlagged), xaxis: 'x2', yaxis: 'y2',
    type: 'scatter', mode: 'lines+markers', showlegend: false,
    line: GREY_LINE,
    marker: { symbol: 'x', size: 8, color: '#ff0000', line: { width: 0 } }
  },
  {
    // carries the half-unit grid of the middle panel
    x: [], y: [], xaxis: 'x2', yaxis: 'y4', type: 'scatter', showlegend: false, hoverinfo: 'skip'
  },
  {
    name: 'lower', x: bandSpan.map(toTime), y: bandSpan.map(() => bandLevels[0]),
    xaxis: 'x3', yaxis: 'y3', type: 'scatter', mode: 'lines', showlegend: false,
    line: { color: '#a3252f', width: 1.2, dash: '4px,2px' }
  },
  {
    name: 'upper', x: bandSpan.map(toTime), y: bandSpan.map(() => bandLevels[1]),
    xaxis: 'x3', yaxis: 'y3', type: 'scatter', mode: 'lines', showlegend: false,
    fill: 'tonexty', fillcolor: 'rgba(255,0,0,0.07)',
    line: { color: '#a3252f', width: 1.2, dash: '4px,2px' }
  },
  {
    name: 'bliq', x: xs(bliq), y: ys(bliq), xaxis: 'x3', yaxis: 'y3',
    type: 'scatter', mode: 'markers', showlegend: false,
    marker: { symbol: 'circle', size: 10, color: '#000080', line: { color: '#c8c8e6', width: 1 } }
  }
];

function timeAxis(anchor) {
  return {
    anchor: anchor, type: 'date', range: X_RANGE.map(toTime),
    tickformat: '%H:%M', dtick: 3600000, tick0: toTime(0),
    ticks: 'inside', ticklen: 5, tickwidth: 1, tickcolor: '#555',
    showline: true, linecolor: '#000', linewidth: 1.2,
    showgrid: false, zeroline: false,
    tickfont: { family: FONT, size: 15.5, color: '#000' }
  };
}

function valueAxis(anchor, domain, range) {
  return {
    anchor: anchor, domain: domain, range: range,
    showline: true, linecolor: '#000', linewidth: 1.2,
    ticks: '', zeroline: false,
    showgrid: true, gridcolor: '#8a8a8a', gridwidth: 1,
    tickfont: { family: FONT, size: 15.5, color: '#000' }
  };
}

const yTop = valueAxis('x', [0.5269, 1], [0.237, 4.797]);
yTop.dtick = 1;
yTop.tick0 = 0;
yTop.minor = { dtick: 0.2, tick0: 0, showgrid: true, gridcolor: '#dcdcdc', gridwidth: 1 };

const yMid = valueAxis('x2', [0.2642, 0.4367], [-1.33, 2.5]);
yMid.dtick = 1;
yMid.tick0 = 0;
yMid.minor = { dtick: 0.1, tick0: 0, showgrid: true, gridcolor: '#f1f1f1', gridwidth: 1 };

const yBot = valueAxis('x3', [0, 0.1756], [-0.2, 1.99]);
yBot.tickmode = 'array';
yBot.tickvals = bottomTicks;
yBot.ticktext = bottomTickText;
yBot.minor = { tickmode: 'linear', dtick: 0.05, tick0: 0, showgrid: true, gridcolor: '#eeeeee', gridwidth: 1 };

const yMidHalf = {
  anchor: 'x2', overlaying: 'y2', range: [-1.33, 2.5],
  tickmode: 'array', tickvals: middleHalfTicks, showticklabels: false,
  showgrid: true, gridcolor: '#cfcfcf', gridwidth: 1, zeroline: false, showline: false, ticks: ''
};

function panelTitle(text, y) {
  return {
    text: text, xref: 'paper', yref: 'paper', x: 0.5, y: y,
    xanchor: 'center', yanchor: 'middle', showarrow: false,
    font: { family: FONT, size: 14.5, color: '#000' }
  };
}

const legendStyle = {
  bgcolor: 'rgba(0,0,0,0)', borderwidth: 0,
  font: { family: FONT, size: 13, color: '#000' },
  traceorder: 'grouped', tracegroupgap: 5,
  xanchor: 'left', yanchor: 'top'
};

const layout = {
  width: 1400, height: 700,
  paper_bgcolor: '#fff', plot_bgcolor: '#fff',
  margin: { l: 44, r: 22, t: 40, b: 28 },
  font: { family: FONT, color: '#000' },
  hovermode: false,
  xaxis: timeAxis('y'),
  xaxis2: timeAxis('y2'),
  xaxis3: timeAxis('y3'),
  yaxis: yTop,
  yaxis2: yMid,
  yaxis3: yBot,
  yaxis4: yMidHalf,
  legend: Object.assign({ x: 0.0142, y: 0.982 }, legendStyle),
  legend2: Object.assign({ x: 0.0855, y: 0.982 }, legendStyle),
  shapes: [{
    type: 'rect', xref: 'paper', yref: 'paper',
    x0: 0.0157, x1: 0.1477, y0: 0.8449, y1: 0.9921,
    line: { color: '#333', width: 1 }, fillcolor: 'rgba(0,0,0,0)', layer: 'above'
  }],
  annotations: [
    panelTitle('DIQ - 2025-02-14', 1.0237),
    panelTitle('Guider — WFS', 0.4604),
    panelTitle('BLIQ+HO+LO — BLIQ+HO', 0.1978)
  ]
};

Plotly.newPlot('diq-plot', traces, layout, { displayModeBar: false, staticPlot: true });
</script>
</body>
</html>
